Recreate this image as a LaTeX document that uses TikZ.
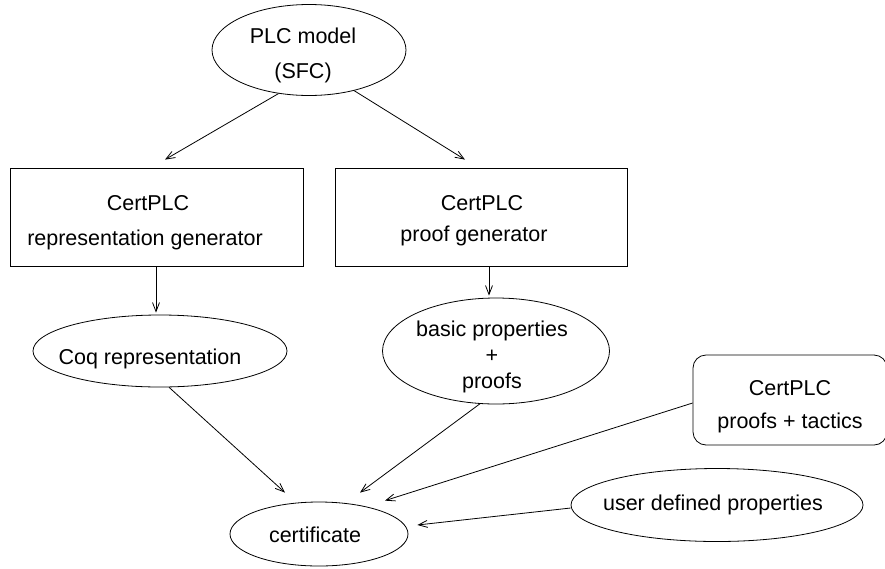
\documentclass[tikz,border=0pt]{standalone}
\usepackage{fontspec}
\setmainfont{Liberation Sans}
\usetikzlibrary{arrows.meta,shapes.geometric}
% text placed inside a shape: #1 horizontal shift, #2 vertical shift, #3 lines
\newcommand\shapetext[3]{\makebox[0pt]{\hspace*{#1}\raisebox{#2}[0pt][0pt]{\begin{tabular}{@{}c@{}}#3\end{tabular}}\hspace*{-#1}}}
\begin{document}
\begin{tikzpicture}[x=1pt,y=-1pt,
  every node/.style={font=\fontsize{21.5}{26}\selectfont, inner sep=0pt, line width=0.8pt},
  ell/.style={draw, ellipse},
  box/.style={draw, rectangle},
  rbox/.style={draw, rectangle, rounded corners=13pt},
  arr/.style={line width=0.8pt, -{Straight Barb[length=9pt,width=7pt,line width=0.8pt]}}]
\useasboundingbox (0,0) rectangle (885,568);
\clip (0,0) rectangle (885,568);

\node[ell, minimum width=194, minimum height=91] (plc) at (309,50)
  {\shapetext{-6pt}{-11pt}{PLC model\\[9.5pt](SFC)}};
\node[box, minimum width=293, minimum height=98] (gen1) at (156.5,217)
  {\shapetext{-8.5pt}{-10.8pt}{CertPLC\\[9pt]representation generator\hspace*{6pt}}};
\node[box, minimum width=292, minimum height=98] (gen2) at (481,217)
  {\shapetext{1pt}{-8.8pt}{CertPLC\\[5pt]proof generator\hspace*{16pt}}};
\node[ell, minimum width=254, minimum height=72] (coq) at (160,351)
  {\shapetext{-10pt}{-13.5pt}{Coq representation}};
\node[ell, minimum width=227, minimum height=106] (basic) at (496,351)
  {\shapetext{-4pt}{-11.8pt}{basic properties\\+\\proofs}};
\node[rbox, minimum width=194, minimum height=90] (tact) at (790,400)
  {\shapetext{0pt}{-11.5pt}{CertPLC\\[7pt]proofs + tactics}};
\node[ell, minimum width=178, minimum height=64] (cert) at (319,534)
  {\shapetext{-4pt}{-8pt}{certificate}};
\node[ell, minimum width=292, minimum height=73] (user) at (717,505)
  {\shapetext{-4pt}{-5pt}{user defined properties}};

\draw[arr] (plc.235) -- ([xshift=8.5pt,yshift=8pt]gen1.north);
\draw[arr] (plc.318) -- ([xshift=-16pt,yshift=8pt]gen2.north);
\draw[arr] ([xshift=-0.5pt]gen1.south) -- ([xshift=-4pt,yshift=2pt]coq.north);
\draw[arr] ([xshift=8pt]gen2.south) -- ([xshift=-7pt,yshift=2pt]basic.north);
\draw[arr] (coq.284) -- ([xshift=-34pt,yshift=9pt]cert.north);
\draw[arr] (basic.253) -- ([xshift=41pt,yshift=9pt]cert.north);
\draw[arr] ([yshift=-3pt]tact.west) -- ([xshift=66pt,yshift=1pt]cert.north);
\draw[arr] ([yshift=-3pt]user.west) -- ([xshift=9pt,yshift=9pt]cert.east);
\end{tikzpicture}
\end{document}
